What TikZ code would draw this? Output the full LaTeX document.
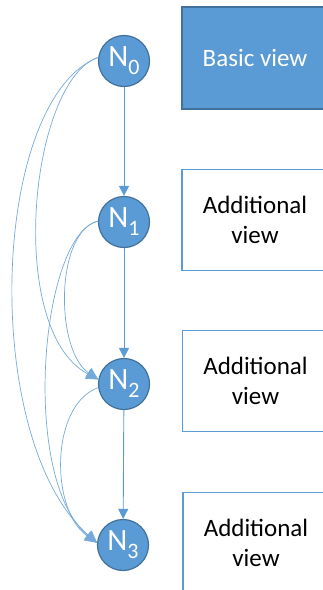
\documentclass[tikz,border=0pt]{standalone}
\usepackage{fontspec}
\setmainfont{Carlito}
\usetikzlibrary{arrows.meta}
\definecolor{nodeblue}{HTML}{5B9BD5}
\definecolor{nodeedge}{HTML}{41719C}
\newcommand{\nlab}[1]{N{\fontsize{22}{22}\selectfont\raisebox{-8pt}{#1}}}
\begin{document}
\begin{tikzpicture}[x=1pt,y=-1pt,
 circ/.style={circle, fill=nodeblue, draw=nodeedge, line width=1.2pt, minimum size=51pt, inner sep=0pt, text=white, font=\fontsize{31}{31}\selectfont},
 basicbox/.style={rectangle, fill=nodeblue, draw=nodeedge, line width=1.5pt, minimum width=146pt, minimum height=102pt, text=white, font=\fontsize{25}{30}\selectfont, align=center},
 addbox/.style={rectangle, fill=white, draw=nodeblue, line width=1.5pt, minimum width=146pt, minimum height=101pt, text=black, font=\fontsize{25}{30}\selectfont, align=center},
 link/.style={draw=nodeblue, line width=0.9pt, -{Triangle[width=10pt,length=10pt]}},
 curvelink/.style={draw=nodeblue!85, line width=0.7pt, -{Triangle[width=11pt,length=12pt]}}
]
\useasboundingbox (0,0) rectangle (323,590);
% boxes
\node[basicbox] (b0) at (255,58) {Basic view};
\node[addbox] (b1) at (255,220) {Additional\\view};
\node[addbox] (b2) at (255.5,381) {Additional\\view};
\node[addbox] (b3) at (256,543) {Additional\\view};
% circles
\node[circ] (n0) at (124,61) {\nlab{0}};
\node[circ] (n1) at (124,222) {\nlab{1}};
\node[circ] (n2) at (124,384) {\nlab{2}};
\node[circ] (n3) at (123,545) {\nlab{3}};
% straight links
\draw[link] (n0) -- (n1);
\draw[link] (n1) -- (n2);
\draw[link] (n2) -- (n3);
% curved links
\draw[curvelink] (n0.172) .. controls (-10,100) and (-20,440) .. (n3.175);
\draw[curvelink] (n0.172) .. controls (30,80) and (5,330) .. (n2.170);
\draw[curvelink] (n1.178) .. controls (55,232) and (55,350) .. (n2.170);
\draw[curvelink] (n1.178) .. controls (40,235) and (20,480) .. (n3.175);
\draw[curvelink] (n2.188) .. controls (50,405) and (50,510) .. (n3.175);
\end{tikzpicture}
\end{document}
